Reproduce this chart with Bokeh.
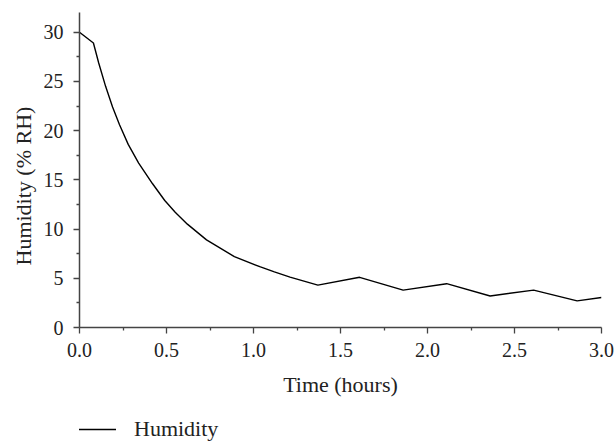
from bokeh.plotting import figure
from bokeh.layouts import column
from bokeh.models import (FixedTicker, PrintfTickFormatter, Legend, LegendItem,
                          Range1d, Title)
from bokeh.embed import file_html
from bokeh.resources import INLINE

time_h = [0.0, 0.08, 0.11, 0.15, 0.19, 0.23, 0.28, 0.34, 0.42, 0.49, 0.55, 0.62,
          0.73, 0.89, 1.04, 1.12, 1.21, 1.37, 1.61, 1.86, 2.11, 2.36, 2.61, 2.86, 3.0]
humidity = [30.0, 28.9, 26.9, 24.5, 22.4, 20.6, 18.6, 16.7, 14.6, 12.9, 11.7, 10.5,
            8.9, 7.2, 6.15, 5.65, 5.12, 4.3, 5.1, 3.8, 4.45, 3.2, 3.8, 2.7, 3.05]
x_ticks = [0.0, 0.5, 1.0, 1.5, 2.0, 2.5, 3.0]
y_ticks = [0, 5, 10, 15, 20, 25, 30]
x_minor = [0.25, 0.75, 1.25, 1.75, 2.25, 2.75]
y_minor = [2.5, 7.5, 12.5, 17.5, 22.5, 27.5]

FONT = "Liberation Serif"
AX = "#444444"
TXT = "#222222"

p = figure(width=615, height=400, output_backend="svg", toolbar_location=None,
           x_range=Range1d(0, 3.0), y_range=Range1d(0, 32),
           min_border_left=79, min_border_right=14, min_border_top=12,
           min_border_bottom=73)
p.outline_line_color = None
p.grid.visible = False

r = p.line(time_h, humidity, line_color="black", line_width=1.4)

for ax in (p.xaxis[0], p.yaxis[0]):
    ax.axis_line_color = AX
    ax.axis_line_width = 1.5
    ax.major_tick_line_color = AX
    ax.minor_tick_line_color = AX
    ax.major_tick_line_width = 1.3
    ax.minor_tick_line_width = 1.3
    ax.major_tick_in = 0
    ax.minor_tick_in = 0
    ax.major_tick_out = 6
    ax.minor_tick_out = 3
    ax.major_label_text_font = FONT
    ax.major_label_text_font_size = "20px"
    ax.major_label_text_color = TXT
    ax.axis_label_text_font = FONT
    ax.axis_label_text_font_size = "22px"
    ax.axis_label_text_font_style = "normal"
    ax.axis_label_text_color = TXT

p.xaxis.ticker = FixedTicker(ticks=x_ticks, minor_ticks=x_minor)
p.yaxis.ticker = FixedTicker(ticks=y_ticks, minor_ticks=y_minor)
p.xaxis.formatter = PrintfTickFormatter(format="%.1f")
p.xaxis.axis_label = "Time (hours)"
p.xaxis.major_label_standoff = 9
p.xaxis.axis_label_standoff = 12
p.yaxis.major_label_standoff = 10

# y-axis title as a side-panel title so it can be placed like the reference
ytitle = Title(text="Humidity (% RH)", align="left", offset=62,
               text_font=FONT, text_font_size="22px", text_font_style="normal",
               text_color=TXT, standoff=10)
p.add_layout(ytitle, "left")

# legend strip below the chart
lf = figure(width=615, height=42, output_backend="svg", toolbar_location=None,
            x_range=Range1d(0, 1), y_range=Range1d(0, 1),
            x_axis_type=None, y_axis_type=None,
            min_border_left=0, min_border_right=0, min_border_top=0, min_border_bottom=0)
lf.outline_line_color = None
lf.grid.visible = False
lr = lf.line([-2, -1], [-2, -2], line_color="black", line_width=1.4)
legend = Legend(items=[LegendItem(label="Humidity", renderers=[lr])],
                location=(-3, 0), orientation="horizontal",
                label_text_font=FONT, label_text_font_size="22px",
                label_text_color=TXT,
                border_line_color=None, background_fill_alpha=0,
                glyph_width=40, glyph_height=16, label_height=16,
                label_standoff=18, padding=0, margin=0, spacing=0)
lf.add_layout(legend)

open("out.html", "w").write(file_html(column(p, lf, spacing=0), INLINE))
